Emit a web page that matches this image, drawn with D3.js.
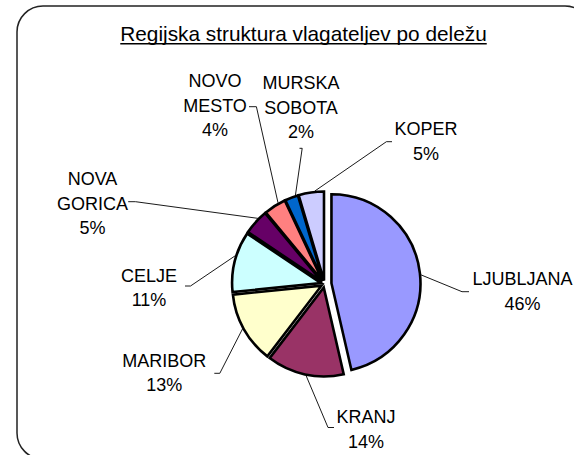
<!DOCTYPE html>
<html><head><meta charset="utf-8">
<script src="https://cdn.jsdelivr.net/npm/d3@7"></script>
<style>body{margin:0;background:#fff}svg{display:block}</style>
</head><body>
<svg id="c" width="574" height="455"></svg>
<script>
const title = "Regijska struktura vlagateljev po deležu";
const categories = ["LJUBLJANA","KRANJ","MARIBOR","CELJE","NOVA GORICA","NOVO MESTO","MURSKA SOBOTA","KOPER"];
const labelLines = [["LJUBLJANA"],["KRANJ"],["MARIBOR"],["CELJE"],["NOVA","GORICA"],["NOVO","MESTO"],["MURSKA","SOBOTA"],["KOPER"]];
const shares = [46.4, 14.0, 13.0, 11.0, 4.6, 4.0, 2.4, 4.6];
const colors = ["#9999FF","#993366","#FFFFCC","#CCFFFF","#660066","#FF8080","#0066CC","#CCCCFF"];

// layout (positions only)
const cx = 324.5, cy = 284, R = 89;
const explode = [7, 3.5, 3.5, 3.5, 3.5, 3.5, 3.5, 3.5];
const labelPos = [[522.5,285],[366,423],[164.3,366.7],[149,281.7],[92.5,185],[215,87.3],[301,89],[426,135]];
const anchorDeg = [84.7,191.3,241.3,287.8,314.7,330.3,342,354.2];
const leader = [
  [[462,291.7],[469,291.7]],
  [[328,427.5],[334,427.5]],
  [[219.8,373.3],[214.3,373.3]],
  [[190.5,286],[185,286]],
  [[135.5,201.7],[128.2,201.7]],
  [[256.4,106.7],[249,106.7]],
  [[302.2,148.3],[299.5,148.3]],
  [[386.4,141.7],[392,141.7]]
];
const lineH = 24.5;

const svg = d3.select("#c");
svg.append("rect").attr("x",17).attr("y",6).attr("width",574).attr("height",453)
  .attr("rx",26).attr("ry",26).attr("fill","#fff").attr("stroke","#222").attr("stroke-width",1.5);

const font = "'Liberation Sans', Arial, sans-serif";
const t = svg.append("text").attr("x",303.5).attr("y",40.7).attr("text-anchor","middle")
  .attr("font-family",font).attr("font-size",20.8).attr("fill","#000").text(title);
const tw = t.node().getComputedTextLength();
svg.append("line").attr("x1",303.5-tw/2).attr("x2",303.5+tw/2).attr("y1",43.8).attr("y2",43.8)
  .attr("stroke","#000").attr("stroke-width",1.4);

const pie = d3.pie().sort(null).value(d=>d).startAngle(0).endAngle(2*Math.PI);
const arcs = pie(shares);
const arc = d3.arc().innerRadius(0).outerRadius(R);

const centers = arcs.map((a,i)=>{
  const m = (a.startAngle+a.endAngle)/2;
  return [cx + Math.sin(m)*explode[i], cy - Math.cos(m)*explode[i]];
});

// leader lines
const lg = svg.append("g");
arcs.forEach((a,i)=>{
  const ang = anchorDeg[i]*Math.PI/180;
  const p0 = [centers[i][0] + Math.sin(ang)*(R+1), centers[i][1] - Math.cos(ang)*(R+1)];
  const pts = [p0, leader[i][0], leader[i][1]];
  lg.append("path").attr("d", d3.line()(pts)).attr("fill","none")
    .attr("stroke","#000").attr("stroke-width",0.9);
});

svg.append("g").selectAll("path").data(arcs).join("path")
  .attr("transform",(d,i)=>`translate(${centers[i][0]},${centers[i][1]})`)
  .attr("d",arc).attr("fill",(d,i)=>colors[i])
  .attr("stroke","#000").attr("stroke-width",2.6).attr("stroke-linejoin","miter");

const labels = svg.append("g").attr("font-family",font).attr("font-size",18).attr("fill","#000")
  .attr("text-anchor","middle");
arcs.forEach((a,i)=>{
  const lines = labelLines[i].concat([Math.round(shares[i])+"%"]);
  lines.forEach((s,k)=>{
    labels.append("text").attr("x",labelPos[i][0]).attr("y",labelPos[i][1]+k*lineH).text(s);
  });
});
</script>
</body></html>
